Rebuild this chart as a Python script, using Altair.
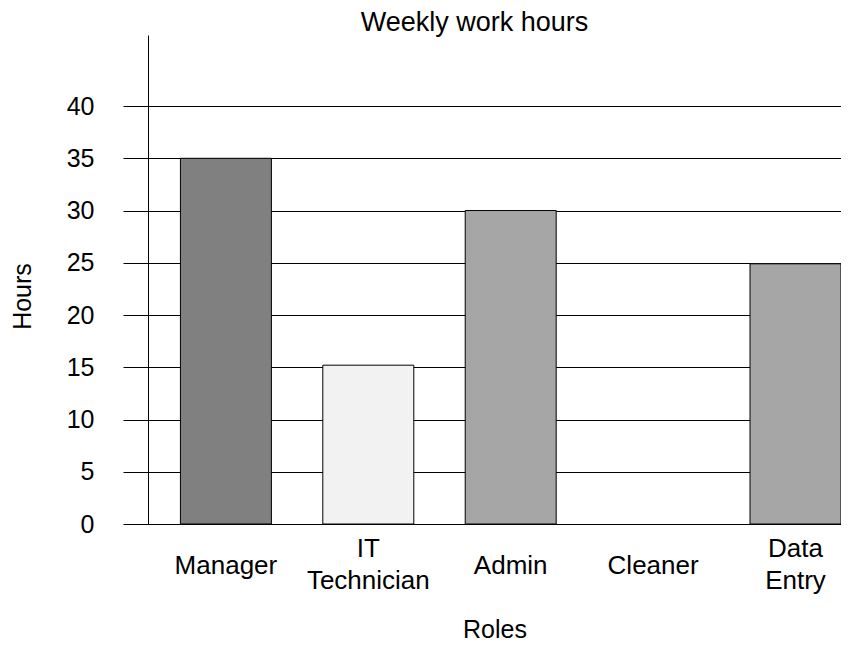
import altair as alt
import pandas as pd

roles = ["Manager", "IT Technician", "Admin", "Cleaner", "Data Entry"]
hours = [35, 15.2, 30, 0, 24.9]
colors = ["#808080", "#f2f2f2", "#a6a6a6", "#a6a6a6", "#a6a6a6"]
y_ticks = [0, 5, 10, 15, 20, 25, 30, 35, 40]

df = pd.DataFrame({"Role": roles, "Hours": hours})

FONT = "Liberation Sans"

chart = alt.Chart(df).mark_bar(stroke="#000000", strokeWidth=1).encode(
    x=alt.X(
        "Role:N",
        sort=roles,
        scale=alt.Scale(paddingInner=0.361, paddingOuter=0.1138, align=1),
        axis=alt.Axis(
            title="Roles",
            labelAngle=0,
            ticks=False,
            tickSize=0,
            domainColor="#000000",
            domainWidth=1,
            labelFont=FONT,
            labelFontSize=26,
            labelColor="#000000",
            labelBaseline="middle",
            labelPadding={
                "condition": {"test": "indexof(datum.label, ' ') >= 0", "value": 24},
                "value": 41,
            },
            labelLineHeight=32,
            labelExpr="split(datum.label, ' ')",
            titleFont=FONT,
            titleFontSize=25,
            titleFontWeight="normal",
            titleColor="#000000",
            titleY=105,
            titleBaseline="middle",
            grid=False,
        ),
    ),
    y=alt.Y(
        "Hours:Q",
        scale=alt.Scale(domain=[0, 46.8], nice=False, zero=True),
        axis=alt.Axis(
            title="Hours",
            values=y_ticks,
            tickSize=25,
            tickColor="#000000",
            domainColor="#000000",
            grid=True,
            gridColor="#000000",
            gridWidth=1,
            labelFont=FONT,
            labelFontSize=25,
            labelColor="#000000",
            labelPadding=29,
            titleFont=FONT,
            titleFontSize=25,
            titleFontWeight="normal",
            titleColor="#000000",
            titleX=-126,
            titleY=261,
            titleAlign="center",
            titleBaseline="middle",
            titleAngle=270,
        ),
    ),
    color=alt.Color("Role:N", scale=alt.Scale(domain=roles, range=colors), legend=None),
    strokeOpacity=alt.condition("datum.Hours > 0", alt.value(1), alt.value(0)),
).properties(
    width=693,
    height=489,
    title=alt.TitleParams(
        "Weekly work hours",
        font=FONT,
        fontSize=27,
        fontWeight="normal",
        color="#000000",
        anchor="middle",
        dx=-20,
        dy=26,
        baseline="alphabetic",
        offset=3,
    ),
    autosize=alt.AutoSizeParams(type="none"),
    padding={"left": 140, "top": 27, "right": 0, "bottom": 117},
).configure_view(stroke=None)

chart.save("out.html", embed_options={"renderer": "svg", "actions": False})
